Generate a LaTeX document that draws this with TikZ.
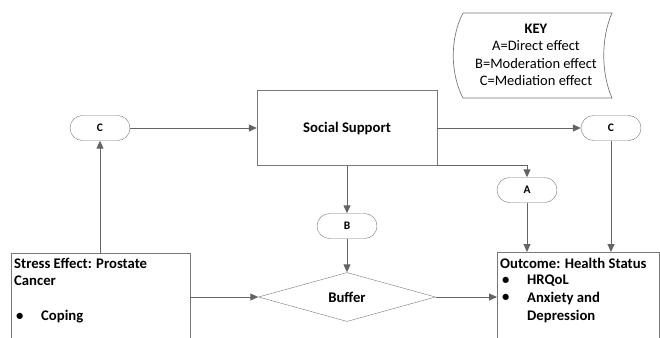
\documentclass[tikz,border=0pt]{standalone}
\usepackage{fontspec}
\setmainfont{Carlito}
\usepackage{xcolor}
\usetikzlibrary{positioning, arrows.meta, calc, shapes.geometric, shapes.misc}
\definecolor{lgray}{RGB}{100,100,100}
\definecolor{bgray}{RGB}{120,120,120}
\begin{document}
\begin{tikzpicture}[x=1pt, y=-1pt, every node/.style={font=\fontsize{14.7}{17}\selectfont},
        pill/.style={draw=bgray, rounded rectangle, minimum width=60pt, minimum height=25pt, inner sep=0pt, font=\fontsize{11.5}{13}\selectfont\bfseries},
        boxnode/.style={draw=bgray, rectangle, inner sep=0pt},
        txt/.style={inner sep=0pt, anchor=west, font=\fontsize{14.7}{17}\selectfont\bfseries},
        arr/.style={-{Triangle[length=8pt, width=7pt]}, lgray, line width=1pt}]
      \useasboundingbox (0,0) rectangle (660,337);

      % key
      \draw[bgray, line width=0.7pt] (463,13) -- (612,13) .. controls (601,38) and (601,73) .. (612,98)
        -- (463,98) .. controls (450,73) and (450,38) .. (463,13);
      \node[align=center, font=\fontsize{14.5}{17.5}\selectfont] (key) at (536,55)
        {\textbf{KEY}\\A=Direct effect\\B=Moderation effect\\C=Mediation effect};

      % nodes
      \node[pill] (cl) at (100,128) {C};
      \node[boxnode, minimum width=180pt, minimum height=75pt, font=\fontsize{14.7}{17}\selectfont\bfseries] (ss) at (347,128) {Social Support};
      \node[pill] (cr) at (611,128) {C};
      \node[pill] (a) at (527,190) {A};
      \node[pill] (b) at (347,226) {B};
      \node[draw=bgray, diamond, aspect=3.6, minimum width=177pt, minimum height=49pt, inner sep=0pt,
            font=\fontsize{14.7}{17}\selectfont\bfseries] (buf) at (347,297) {Buffer};

      \node[boxnode, anchor=north west, minimum width=179pt, minimum height=100pt] (stress) at (11,253) {};
      \node[txt] (s1) at (14,263) {Stress Effect: Prostate};
      \node[txt] (s2) at (14,281) {Cancer};
      \node[txt] (s3) at (16,317) {•};
      \node[txt] (s4) at (41,317) {Coping};

      \node[boxnode, anchor=north west, minimum width=162pt, minimum height=100pt] (out) at (497,252) {};
      \node[txt] (o1) at (500,263) {Outcome: Health Status};
      \node[txt] (o2) at (502,281) {•};
      \node[txt] (o3) at (527,281) {HRQoL};
      \node[txt] (o4) at (502,298) {•};
      \node[txt] (o5) at (527,298) {Anxiety and};
      \node[txt] (o6) at (527,316) {Depression};

      % connectors
      \draw[arr] (stress.north -| cl.south) -- (cl.south);
      \draw[arr] (cl.east) -- (ss.west);
      \draw[arr] (ss.east) -- (cr.west);
      \draw[arr] (ss.south east) -| (a.north);
      \draw[arr] (ss.south) -- (b.north);
      \draw[arr] (b.south) -- (buf.north);
      \draw[arr] (stress.east |- buf.west) -- (buf.west);
      \draw[arr] (buf.east) -- (out.west |- buf.east);
      \draw[arr] (a.south) -- (a.south |- out.north);
      \draw[arr] (cr.south) -- (cr.south |- out.north);
    \end{tikzpicture}
\end{document}
